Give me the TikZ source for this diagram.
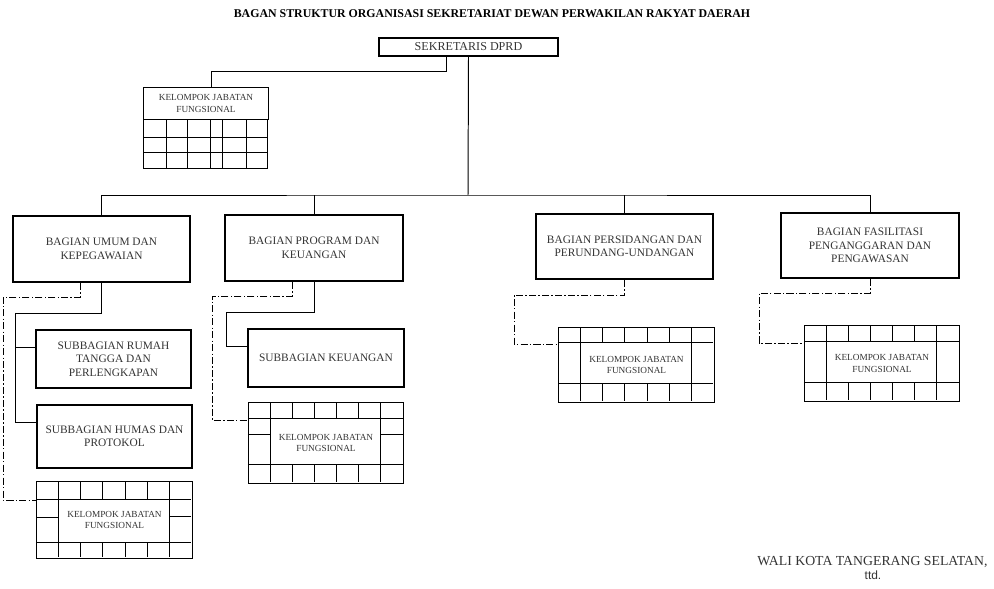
\documentclass[tikz,border=0pt]{standalone}
\usepackage{fontspec}
\setmainfont{Liberation Serif}
\setsansfont{Liberation Sans}
\usepackage{tikz}
\usetikzlibrary{positioning}
% griglia interna di un kelompok jabatan fungsional: nome, altezza, riga alta, riga bassa
\newcommand{\kjfgrid}[4]{%
  \begin{scope}[shift={(#1.north west)}]
    \draw[garis] (0,#3) -- (155,#3) (0,#2-#4) -- (155,#2-#4);
    \foreach \k in {1,...,6} {
      \draw[garis] ({\k*155/7},0) -- ({\k*155/7},#3);
      \draw[garis] ({\k*155/7},#2-#4) -- ({\k*155/7},#2);
    }
    \draw[garis] (155/7,#3) -- (155/7,#2-#4);
    \draw[garis] (6*155/7,#3) -- (6*155/7,#2-#4);
  \end{scope}}

\begin{document}
\begin{tikzpicture}[x = 0.025cm, y = -0.025cm,
    bagian/.style = {draw, line width = 1.3pt, inner sep = 2pt, align = center, text = black!80,
                     font = \fontsize{8.1}{9.6}\selectfont},
    kjf/.style = {draw, line width = 0.7pt, inner sep = 1pt, align = center, text = black!80,
                  font = \fontsize{6.6}{7.9}\selectfont},
    garis/.style = {line width = 0.7pt},
    putus/.style = {line width = 0.7pt, dash pattern = on 5pt off 1.6pt on 1pt off 1.6pt}]
    % Batas gambar
    \useasboundingbox (0,0) rectangle (994,589);
    % Judul
    \node[font = \fontsize{8.45}{10}\selectfont\bfseries] (judul) at (492,14)
        {BAGAN STRUKTUR ORGANISASI SEKRETARIAT DEWAN PERWAKILAN RAKYAT DAERAH};
    % Sekretaris DPRD
    \node[bagian, line width = 1.1pt, minimum width = 4.475cm, minimum height = 0.45cm,
          font = \fontsize{8.6}{10}\selectfont] (sekretaris) at (468.5,47) {SEKRETARIS DPRD};
    % Kelompok jabatan fungsional di bawah sekretaris
    \node[kjf, minimum width = 3.1cm, minimum height = 0.775cm, font = \fontsize{6.6}{9}\selectfont]
        (kjf0) at (206,103.5) {KELOMPOK JABATAN\\FUNGSIONAL};
    \begin{scope}[shift = {(kjf0.south west)}]
        \draw[garis] (0,0) rectangle (124,49);
        \draw[garis] (0,18) -- (124,18) (0,33) -- (124,33);
        \foreach \k in {23,44,67,79,103} \draw[garis] (\k,0) -- (\k,49);
    \end{scope}
    \coordinate (belok0a) at (446,71);
    \coordinate (belok0b) at (211,71);
    \draw[garis] (sekretaris.south -| belok0a) -- (belok0a) -- (belok0b) -- (belok0b |- kjf0.north);
    % Bagian
    \node[bagian, minimum width = 4.425cm, minimum height = 1.65cm] (umum) at (101.5,249)
        {BAGIAN UMUM DAN\\KEPEGAWAIAN};
    \node[bagian, minimum width = 4.45cm, minimum height = 1.65cm] (program) at (314,248)
        {BAGIAN PROGRAM DAN\\KEUANGAN};
    \node[bagian, minimum width = 4.425cm, minimum height = 1.625cm] (sidang) at (624.5,246.5)
        {BAGIAN PERSIDANGAN DAN\\PERUNDANG-UNDANGAN};
    \node[bagian, minimum width = 4.45cm, minimum height = 1.625cm] (fasilitasi) at (870,245.5)
        {BAGIAN FASILITASI\\PENGANGGARAN DAN\\PENGAWASAN};
    \coordinate (bus) at (468,195);
    \draw[garis] (sekretaris.south) -- (bus);
    \draw[garis] (umum.north) |- (bus) -| (fasilitasi.north);
    \draw[garis] (program.north) -- (program.north |- bus);
    \draw[garis] (sidang.north) -- (sidang.north |- bus);
    % Subbagian
    \node[bagian, minimum width = 3.875cm, minimum height = 1.45cm] (rumahtangga) at (113.5,359)
        {SUBBAGIAN RUMAH\\TANGGA DAN\\PERLENGKAPAN};
    \node[bagian, minimum width = 3.875cm, minimum height = 1.575cm] (humas) at (114.5,436.5)
        {SUBBAGIAN HUMAS DAN\\PROTOKOL};
    \node[bagian, minimum width = 3.9cm, minimum height = 1.45cm] (keuangan) at (326,358)
        {SUBBAGIAN KEUANGAN};
    % Kelompok jabatan fungsional di bawah bagian
    \node[kjf, minimum width = 3.875cm, minimum height = 1.9cm] (kjf1) at (114.5,520)
        {KELOMPOK JABATAN\\FUNGSIONAL};
    \kjfgrid{kjf1}{76}{18}{15}
    \begin{scope}[shift = {(kjf1.north west)}]
        \draw[garis] (0,36) -- (155/7,36) (6*155/7,35) -- (155,35);
    \end{scope}
    \node[kjf, minimum width = 3.875cm, minimum height = 2cm] (kjf2) at (326,443)
        {KELOMPOK JABATAN\\FUNGSIONAL};
    \kjfgrid{kjf2}{80}{16}{18}
    \begin{scope}[shift = {(kjf2.north west)}]
        \draw[garis] (0,32) -- (155/7,32) (6*155/7,32) -- (155,32);
    \end{scope}
    \node[kjf, minimum width = 3.875cm, minimum height = 1.85cm] (kjf3) at (636.5,365)
        {KELOMPOK JABATAN\\FUNGSIONAL};
    \kjfgrid{kjf3}{74}{15}{18}
    \node[kjf, minimum width = 3.875cm, minimum height = 1.875cm] (kjf4) at (882,363.5)
        {KELOMPOK JABATAN\\FUNGSIONAL};
    \kjfgrid{kjf4}{75}{16}{18}
    % Garis bagian umum
    \coordinate (umum-a) at (15,313);
    \coordinate (umum-b) at (3,297);
    \coordinate (umum-c) at (80,297);
    \draw[garis] (umum.south) |- (umum-a) |- ([yshift = 0.3cm]rumahtangga.west);
    \draw[garis] (umum-a) |- ([yshift = 0.3625cm]humas.west);
    \draw[putus] (umum.south -| umum-c) -- (umum-c) -- (umum-b) |- ([yshift = 0.5cm]kjf1.west);
    % Garis bagian program
    \coordinate (program-a) at (226,312);
    \coordinate (program-b) at (212,296);
    \coordinate (program-c) at (292,296);
    \draw[garis] (program.south) |- (program-a) |- ([yshift = 0.3cm]keuangan.west);
    \draw[putus] (program.south -| program-c) -- (program-c) -- (program-b) |- ([yshift = 0.575cm]kjf2.west);
    % Garis bagian persidangan dan fasilitasi
    \coordinate (sidang-a) at (514,295);
    \draw[putus] (sidang.south) |- (sidang-a) |- ([yshift = 0.525cm]kjf3.west);
    \coordinate (fasilitasi-a) at (759,293);
    \draw[putus] (fasilitasi.south) |- (fasilitasi-a) |- ([yshift = 0.5125cm]kjf4.west);
    % Pengesahan
    \node[font = \fontsize{9.8}{11}\selectfont, text = black!80] (walikota) at (872.5,562)
        {WALI KOTA TANGERANG SELATAN,};
    \node[font = \sffamily\fontsize{8.5}{10}\selectfont, text = black!80] (ttd) at (873,575) {ttd.};
\end{tikzpicture}
\end{document}
